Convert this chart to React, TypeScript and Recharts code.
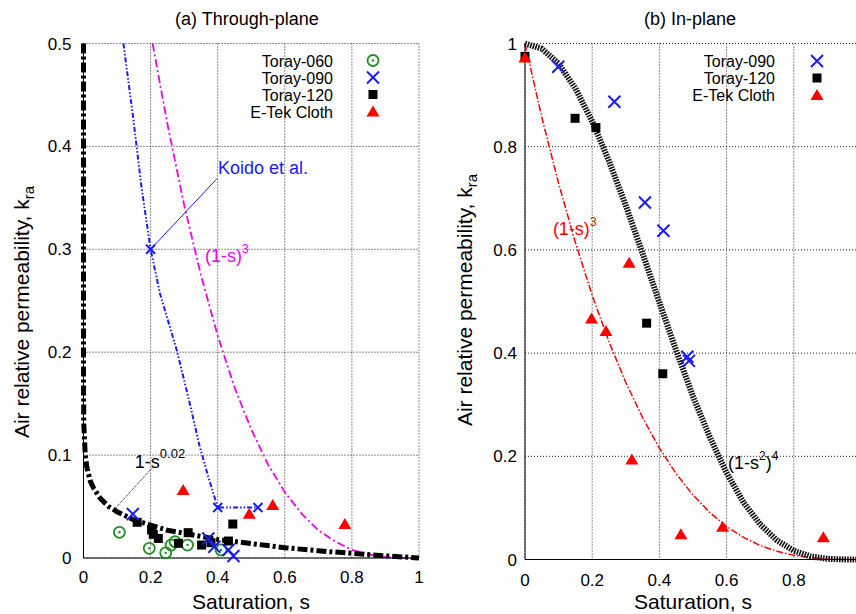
import React from "react";
import {
  ComposedChart,
  Line,
  Scatter,
  XAxis,
  YAxis,
  CartesianGrid,
  ReferenceLine,
  ReferenceDot,
} from "recharts";

const FONT = "'Liberation Sans', Arial, Helvetica, sans-serif";

const GREEN = "#1f8f1f";
const BLUE = "#1a1aff";
const RED = "#ff0000";
const MAGENTA = "#f000f0";

// (a) through-plane measurements
const t060S = [0.107, 0.196, 0.245, 0.261, 0.273, 0.31, 0.41];
const t060K = [0.025, 0.0094, 0.005, 0.0126, 0.0158, 0.0126, 0.0078];
const t090S = [0.147, 0.372, 0.39, 0.432, 0.447];
const t090K = [0.0427, 0.019, 0.011, 0.0078, 0.002];
const t120S = [0.16, 0.203, 0.208, 0.223, 0.283, 0.312, 0.352, 0.38, 0.432, 0.445];
const t120K = [0.0347, 0.0272, 0.023, 0.019, 0.0143, 0.0246, 0.0126, 0.0149, 0.0165, 0.033];
const etekS = [0.297, 0.494, 0.564, 0.779];
const etekK = [0.066, 0.043, 0.0515, 0.033];

// Koido et al. correlation and its marked points
const koidoS = [0.119, 0.148, 0.173, 0.2, 0.228, 0.278, 0.317, 0.345, 0.372, 0.4, 0.52];
const koidoK = [0.5, 0.428, 0.36, 0.3, 0.257, 0.202, 0.15, 0.11, 0.079, 0.049, 0.049];
const koidoPtS = [0.2, 0.4, 0.52];
const koidoPtK = [0.3, 0.049, 0.049];

// (1-s)^3 within the 0..0.5 window
const cubicAS = [0.206, 0.25, 0.3, 0.35, 0.4, 0.45, 0.5, 0.55, 0.6, 0.65, 0.7, 0.75, 0.8, 0.85, 0.9, 0.95, 1];
const cubicAK = [0.5, 0.422, 0.343, 0.275, 0.216, 0.166, 0.125, 0.091, 0.064, 0.043, 0.027, 0.016, 0.008, 0.0034, 0.001, 0.0001, 0];

// 1-s^0.02
const powS = [1e-15, 1e-6, 1e-4, 0.001, 0.005, 0.01, 0.02, 0.03, 0.05, 0.075, 0.1, 0.15, 0.2, 0.25, 0.3, 0.4, 0.5, 0.6, 0.7, 0.8, 0.9, 1];
const powK = [0.5, 0.241, 0.168, 0.129, 0.101, 0.088, 0.075, 0.068, 0.058, 0.05, 0.045, 0.037, 0.032, 0.027, 0.024, 0.018, 0.014, 0.01, 0.007, 0.0045, 0.0021, 0];

// (b) in-plane measurements
const b090S = [0.099, 0.266, 0.357, 0.412, 0.483, 0.488];
const b090K = [0.955, 0.887, 0.692, 0.637, 0.393, 0.385];
const b120S = [0, 0.149, 0.211, 0.362, 0.41];
const b120K = [0.975, 0.855, 0.837, 0.458, 0.36];
const bEtekS = [0, 0.198, 0.241, 0.31, 0.318, 0.464, 0.588, 0.888];
const bEtekK = [0.973, 0.467, 0.443, 0.575, 0.194, 0.049, 0.0636, 0.043];

// model curves for (b)
const curveS = [0, 0.05, 0.1, 0.15, 0.2, 0.25, 0.3, 0.35, 0.4, 0.45, 0.5, 0.55, 0.6, 0.65, 0.7, 0.75, 0.8, 0.85, 0.9, 0.95, 1];
const cubicBK = [1, 0.857, 0.729, 0.614, 0.512, 0.422, 0.343, 0.275, 0.216, 0.166, 0.125, 0.091, 0.064, 0.043, 0.027, 0.016, 0.008, 0.0034, 0.001, 0.0001, 0];
const quartK = [1, 0.99, 0.961, 0.913, 0.849, 0.772, 0.686, 0.593, 0.498, 0.405, 0.316, 0.237, 0.168, 0.111, 0.068, 0.037, 0.017, 0.006, 0.0013, 0.0001, 0];

const xTicksA = [0, 0.2, 0.4, 0.6, 0.8, 1];
const yTicksA = [0, 0.1, 0.2, 0.3, 0.4, 0.5];
// the s = 1 edge of panel (b) sits past the page edge
const xTicksB = [0, 0.2, 0.4, 0.6, 0.8];
const yTicksB = [0, 0.2, 0.4, 0.6, 0.8, 1];

const zip = (s: number[], k: number[]) => s.map((v, i) => ({ s: v, k: k[i] }));

// marker shapes
const Ring = ({ cx, cy }: any) => (
  <g>
    <circle cx={cx} cy={cy} r={5.5} fill="none" stroke={GREEN} strokeWidth={1.8} />
    <circle cx={cx} cy={cy} r={1.2} fill={GREEN} />
  </g>
);
const cross = (h: number) => ({ cx, cy }: any) => (
  <path
    d={`M${cx - h},${cy - h}L${cx + h},${cy + h}M${cx - h},${cy + h}L${cx + h},${cy - h}`}
    stroke={BLUE}
    strokeWidth={2}
    fill="none"
  />
);
const Cross = cross(6);
const SmallCross = cross(4.5);
const Square = ({ cx, cy }: any) => <rect x={cx - 4.5} y={cy - 4.5} width={9} height={9} fill="#000" />;
const Tri = ({ cx, cy }: any) => (
  <path d={`M${cx},${cy - 6}L${cx + 6.5},${cy + 5}L${cx - 6.5},${cy + 5}Z`} fill={RED} />
);

const tickStyle = { fontSize: 17, fill: "#000", fontFamily: FONT };

// text pinned to a data position
const note = (draw: (x: number, y: number) => React.ReactNode) => ({
  content: (p: any) => {
    const vb = p.viewBox || {};
    return draw(vb.x + (vb.width || 0) / 2, vb.y + (vb.height || 0) / 2);
  },
});

function ThroughPlane() {
  return (
    <ComposedChart width={440} height={614} margin={{ top: 43.5, right: 21, bottom: 26, left: 23.5 }}>
      <CartesianGrid stroke="#222" strokeDasharray="1 2" />
      <XAxis
        type="number"
        dataKey="s"
        domain={[0, 1]}
        ticks={xTicksA}
        tickLine={false}
        tickSize={5}
        tickMargin={8}
        tick={tickStyle}
        axisLine={{ stroke: "#000" }}
        height={30}
      />
      <YAxis
        type="number"
        dataKey="k"
        domain={[0, 0.5]}
        ticks={yTicksA}
        tickLine={false}
        tickSize={5}
        tickMargin={7}
        tick={tickStyle}
        axisLine={{ stroke: "#000" }}
        width={60}
      />
      <Line data={zip(cubicAS, cubicAK)} dataKey="k" stroke={MAGENTA} strokeWidth={1.8} strokeDasharray="8 3 2 3" dot={false} activeDot={false} isAnimationActive={false} />
      <Line data={zip(koidoS, koidoK)} dataKey="k" stroke={BLUE} strokeWidth={2} strokeDasharray="5 2 1.5 2 1.5 2" dot={false} activeDot={false} isAnimationActive={false} />
      <Line data={zip(powS, powK)} dataKey="k" stroke="#000" strokeWidth={5} strokeDasharray="10 3 3 3" dot={false} activeDot={false} isAnimationActive={false} />
      <Scatter data={zip(koidoPtS, koidoPtK)} dataKey="k" shape={SmallCross} isAnimationActive={false} />
      <Scatter data={zip(t060S, t060K)} dataKey="k" shape={Ring} isAnimationActive={false} />
      <Scatter data={zip(t120S, t120K)} dataKey="k" shape={Square} isAnimationActive={false} />
      <Scatter data={zip(t090S, t090K)} dataKey="k" shape={Cross} isAnimationActive={false} />
      <Scatter data={zip(etekS, etekK)} dataKey="k" shape={Tri} isAnimationActive={false} />
      <ReferenceLine segment={[{ x: 0.399, y: 0.369 }, { x: 0.2, y: 0.3 }]} stroke={BLUE} strokeWidth={1} />
      <ReferenceLine segment={[{ x: 0.203, y: 0.087 }, { x: 0.094, y: 0.048 }]} stroke="#000" strokeWidth={1} strokeDasharray="1 1" />
      <ReferenceDot
        x={0.401}
        y={0.379}
        r={1}
        fill="none"
        stroke="none"
        label={note((x, y) => (
          <text x={x} y={y} dy={6} fontSize={18} fill={BLUE} fontFamily={FONT}>
            Koido et al.
          </text>
        ))}
      />
      <ReferenceDot
        x={0.362}
        y={0.294}
        r={1}
        fill="none"
        stroke="none"
        label={note((x, y) => (
          <text x={x} y={y} dy={7} fontSize={18} fill={MAGENTA} fontFamily={FONT}>
            (1-s)<tspan dy={-9} fontSize={12}>3</tspan>
          </text>
        ))}
      />
      <ReferenceDot
        x={0.153}
        y={0.094}
        r={1}
        fill="none"
        stroke="none"
        label={note((x, y) => (
          <text x={x} y={y} dy={7} fontSize={18} fill="#000" fontFamily={FONT}>
            1-s<tspan dy={-10} fontSize={13}>0.02</tspan>
          </text>
        ))}
      />
    </ComposedChart>
  );
}

function InPlane() {
  return (
    <ComposedChart width={440} height={614} margin={{ top: 43.5, right: 19, bottom: 24.5, left: 25 }}>
      <CartesianGrid stroke="#222" strokeDasharray="1 2" />
      <XAxis
        type="number"
        dataKey="s"
        domain={[0, 1]}
        ticks={xTicksB}
        tickLine={false}
        tickSize={5}
        tickMargin={9}
        tick={tickStyle}
        axisLine={{ stroke: "#000" }}
        height={30}
      />
      <YAxis
        type="number"
        dataKey="k"
        domain={[0, 1]}
        ticks={yTicksB}
        tickLine={false}
        tickSize={5}
        tickMargin={3}
        tick={tickStyle}
        axisLine={{ stroke: "#000" }}
        width={60}
      />
      <Line data={zip(curveS, cubicBK)} dataKey="k" stroke={RED} strokeWidth={1.5} strokeDasharray="7 2 1.5 2" dot={false} activeDot={false} isAnimationActive={false} />
      <Line data={zip(curveS, quartK)} dataKey="k" stroke="#111" strokeWidth={6} strokeDasharray="1.6 1.1" dot={false} activeDot={false} isAnimationActive={false} />
      <Scatter data={zip(b120S, b120K)} dataKey="k" shape={Square} isAnimationActive={false} />
      <Scatter data={zip(b090S, b090K)} dataKey="k" shape={Cross} isAnimationActive={false} />
      <Scatter data={zip(bEtekS, bEtekK)} dataKey="k" shape={Tri} isAnimationActive={false} />
      <ReferenceDot
        x={0.083}
        y={0.642}
        r={1}
        fill="none"
        stroke="none"
        label={note((x, y) => (
          <text x={x} y={y} dy={7} fontSize={18} fill={RED} fontFamily={FONT}>
            (1-s)<tspan dy={-9} fontSize={12}>3</tspan>
          </text>
        ))}
      />
      <ReferenceDot
        x={0.604}
        y={0.189}
        r={1}
        fill="none"
        stroke="none"
        label={note((x, y) => (
          <text x={x} y={y} dy={7} fontSize={18} fill="#000" fontFamily={FONT}>
            (1-s<tspan dy={-9} fontSize={12}>2</tspan>
            <tspan dy={9}>)</tspan>
            <tspan dy={-9} fontSize={12}>4</tspan>
          </text>
        ))}
      />
    </ComposedChart>
  );
}

const legendA = [
  { name: "Toray-060", Mark: Ring },
  { name: "Toray-090", Mark: Cross },
  { name: "Toray-120", Mark: Square },
  { name: "E-Tek Cloth", Mark: Tri },
];
const legendB = [
  { name: "Toray-090", Mark: Cross },
  { name: "Toray-120", Mark: Square },
  { name: "E-Tek Cloth", Mark: Tri },
];

function Legend({ items, textX, markX, top }: any) {
  return (
    <g>
      {items.map((it: any, i: number) => {
        const y = top + i * 17;
        const M = it.Mark;
        return (
          <g key={it.name}>
            <text x={textX} y={y} dy={6} textAnchor="end" fontSize={16} fontFamily={FONT} fill="#000">
              {it.name}
            </text>
            <M cx={markX} cy={y} />
          </g>
        );
      })}
    </g>
  );
}

function YTitle({ x, y }: { x: number; y: number }) {
  return (
    <text
      x={x}
      y={y}
      transform={`rotate(-90 ${x} ${y})`}
      textAnchor="middle"
      dy={7}
      fontSize={21}
      fontFamily={FONT}
      fill="#000"
    >
      Air relative permeability, k<tspan dy={5} fontSize={15}>ra</tspan>
    </text>
  );
}

export default function App() {
  return (
    <div
      style={{
        position: "absolute",
        left: 0,
        top: 0,
        width: 856,
        height: 614,
        overflow: "hidden",
        background: "#fff",
      }}
    >
      <div style={{ position: "absolute", left: 0, top: 0 }}>
        <ThroughPlane />
      </div>
      <div style={{ position: "absolute", left: 440, top: 0 }}>
        <InPlane />
      </div>
      <svg width={856} height={614} style={{ position: "absolute", left: 0, top: 0, pointerEvents: "none" }}>
        <text x={247} y={25} textAnchor="middle" fontSize={18} fontFamily={FONT}>
          (a) Through-plane
        </text>
        <text x={690} y={25} textAnchor="middle" fontSize={18} fontFamily={FONT}>
          (b) In-plane
        </text>
        <text x={251} y={609} textAnchor="middle" fontSize={21} fontFamily={FONT}>
          Saturation, s
        </text>
        <text x={693} y={609} textAnchor="middle" fontSize={21} fontFamily={FONT}>
          Saturation, s
        </text>
        <YTitle x={22} y={312} />
        <YTitle x={465} y={300} />
        <Legend items={legendA} textX={333} markX={373} top={60.5} />
        <Legend items={legendB} textX={775} markX={817} top={61} />
      </svg>
    </div>
  );
}
